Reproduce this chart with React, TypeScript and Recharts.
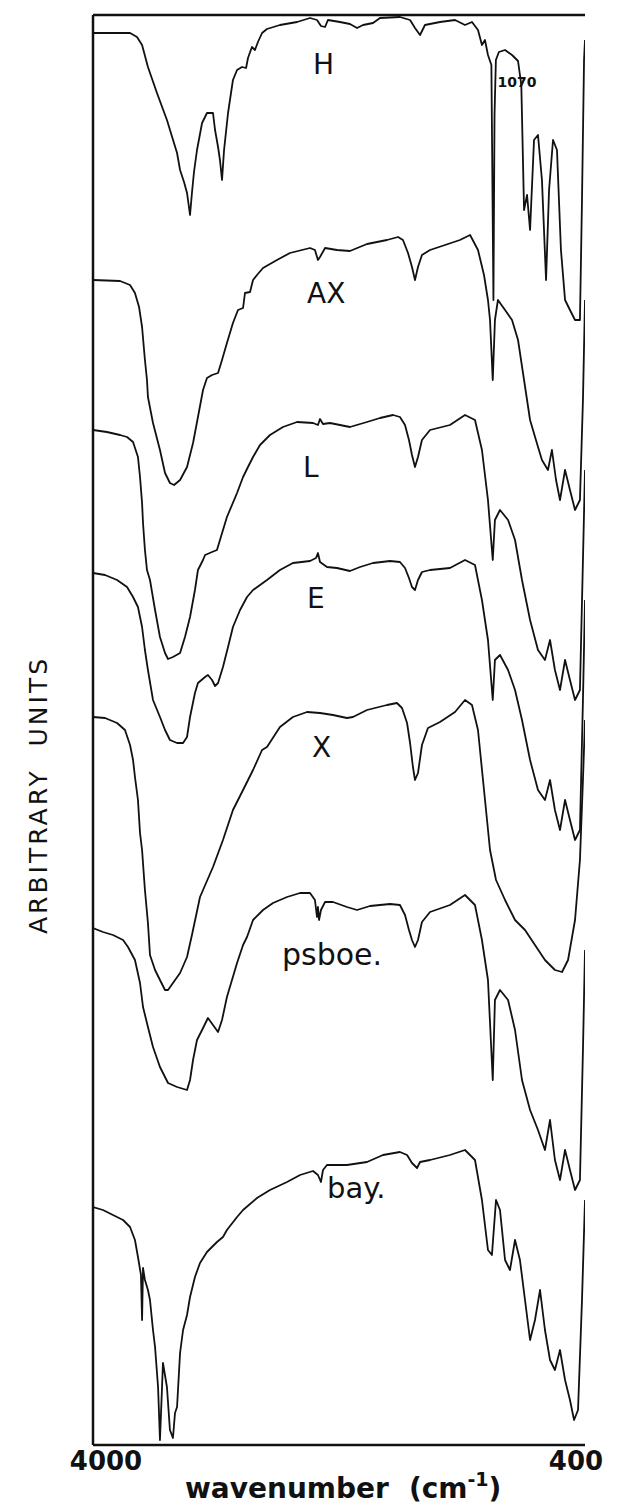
import React from "react";
import { LineChart, Line, XAxis, YAxis, ReferenceLine, ReferenceDot, Label } from "recharts";

type Pt = [number, number];

// [wavenumber (cm-1), signal (arbitrary units, each trace offset vertically)]
const hSpectrum: Pt[] = [
  [4000, 1412], [3876, 1412], [3729, 1412], [3678, 1408], [3641, 1400], [3598, 1378], [3532, 1352],
  [3459, 1325], [3385, 1292], [3363, 1275], [3334, 1263], [3312, 1252], [3290, 1230], [3276, 1252],
  [3261, 1273], [3239, 1295], [3202, 1322], [3166, 1332], [3122, 1332], [3107, 1315], [3085, 1298],
  [3071, 1285], [3056, 1265], [3041, 1295], [3012, 1332], [2976, 1365], [2946, 1375], [2910, 1378],
  [2880, 1377], [2866, 1387], [2837, 1398], [2815, 1395], [2793, 1403], [2763, 1412], [2727, 1416],
  [2632, 1420], [2507, 1423], [2412, 1427], [2361, 1425], [2332, 1419], [2302, 1418], [2281, 1425],
  [2193, 1423], [2120, 1421], [2068, 1417], [2024, 1420], [1951, 1422], [1900, 1427], [1754, 1428],
  [1680, 1425], [1644, 1417], [1607, 1410], [1571, 1420], [1461, 1423], [1351, 1425], [1278, 1420],
  [1227, 1423], [1183, 1415], [1154, 1400], [1132, 1405], [1110, 1390], [1085, 1380], [1070, 1145],
  [1062, 1330], [1052, 1385], [1030, 1393], [985, 1395], [934, 1390], [890, 1384], [866, 1360],
  [846, 1235], [824, 1250], [802, 1215], [773, 1305], [744, 1310], [715, 1265], [685, 1165],
  [663, 1255], [634, 1305], [605, 1295], [576, 1195], [546, 1145], [510, 1135], [473, 1125],
  [437, 1125], [422, 1245], [407, 1385], [400, 1405],
];

const axSpectrum: Pt[] = [
  [4000, 1165], [3802, 1164], [3729, 1160], [3693, 1152], [3663, 1138], [3641, 1118], [3620, 1085],
  [3605, 1065], [3598, 1048], [3561, 1022], [3510, 995], [3473, 972], [3437, 962], [3407, 960],
  [3363, 965], [3312, 978], [3268, 1002], [3232, 1028], [3195, 1055], [3166, 1067], [3129, 1070],
  [3085, 1072], [3056, 1085], [3020, 1102], [2976, 1122], [2939, 1135], [2902, 1137], [2888, 1152],
  [2851, 1153], [2829, 1165], [2800, 1170], [2756, 1177], [2654, 1185], [2559, 1192], [2412, 1197],
  [2376, 1195], [2354, 1185], [2339, 1188], [2302, 1197], [2215, 1195], [2120, 1194], [1995, 1201],
  [1849, 1205], [1768, 1208], [1732, 1205], [1695, 1192], [1666, 1178], [1644, 1165], [1622, 1178],
  [1593, 1190], [1534, 1195], [1424, 1200], [1315, 1205], [1241, 1210], [1183, 1195], [1139, 1170],
  [1110, 1145], [1095, 1125], [1075, 1065], [1059, 1125], [1037, 1145], [985, 1135], [934, 1125],
  [890, 1105], [846, 1065], [802, 1025], [759, 1005], [715, 985], [671, 975], [642, 995],
  [612, 965], [583, 945], [546, 975], [510, 955], [473, 935], [437, 945], [415, 1045], [400, 1145],
];

const lSpectrum: Pt[] = [
  [4000, 1015], [3898, 1013], [3802, 1010], [3751, 1008], [3707, 1003], [3671, 988], [3656, 968],
  [3641, 942], [3634, 922], [3620, 895], [3605, 875], [3583, 865], [3546, 835], [3510, 808],
  [3473, 792], [3451, 786], [3415, 788], [3363, 792], [3327, 808], [3290, 828], [3254, 855],
  [3232, 875], [3195, 885], [3180, 890], [3129, 893], [3093, 895], [3071, 905], [3020, 928],
  [2946, 952], [2902, 968], [2866, 978], [2829, 988], [2778, 1000], [2705, 1010], [2610, 1018],
  [2507, 1023], [2390, 1022], [2354, 1020], [2339, 1026], [2317, 1021], [2266, 1022], [2120, 1018],
  [1995, 1023], [1900, 1027], [1805, 1030], [1754, 1028], [1717, 1020], [1688, 1005], [1666, 990],
  [1644, 978], [1622, 988], [1593, 1005], [1534, 1015], [1388, 1020], [1278, 1030], [1205, 1025],
  [1154, 995], [1110, 945], [1075, 885], [1059, 925], [1022, 935], [963, 925], [912, 905],
  [861, 865], [802, 825], [744, 795], [693, 785], [656, 805], [620, 775], [583, 755], [546, 785],
  [510, 765], [473, 745], [437, 755], [415, 885], [400, 975],
];

const eSpectrum: Pt[] = [
  [4000, 872], [3912, 870], [3824, 865], [3751, 858], [3707, 848], [3671, 838], [3641, 818],
  [3620, 795], [3598, 775], [3561, 745], [3510, 728], [3473, 715], [3437, 705], [3385, 702],
  [3341, 702], [3312, 708], [3290, 728], [3254, 752], [3232, 762], [3180, 768], [3159, 770],
  [3129, 765], [3107, 759], [3085, 762], [3049, 778], [3012, 798], [2976, 818], [2924, 835],
  [2873, 848], [2829, 855], [2727, 865], [2632, 875], [2537, 882], [2412, 884], [2368, 887],
  [2354, 892], [2339, 883], [2288, 878], [2215, 877], [2120, 874], [2046, 878], [1951, 882],
  [1827, 884], [1754, 883], [1717, 877], [1688, 867], [1666, 858], [1644, 855], [1622, 865],
  [1593, 873], [1534, 875], [1388, 877], [1278, 885], [1205, 880], [1154, 845], [1110, 805],
  [1075, 745], [1059, 785], [1022, 790], [963, 775], [912, 755], [861, 725], [802, 685],
  [744, 655], [693, 645], [656, 665], [620, 635], [583, 615], [546, 645], [510, 625], [473, 605],
  [437, 615], [415, 745], [400, 845],
];

const xSpectrum: Pt[] = [
  [4000, 728], [3912, 727], [3824, 722], [3766, 715], [3729, 700], [3707, 685], [3693, 668],
  [3671, 645], [3656, 612], [3641, 595], [3620, 555], [3598, 522], [3583, 490], [3546, 475],
  [3510, 465], [3473, 455], [3451, 455], [3415, 462], [3363, 472], [3312, 488], [3276, 510],
  [3217, 548], [3122, 578], [3049, 605], [2976, 635], [2902, 655], [2829, 675], [2763, 695],
  [2727, 698], [2632, 718], [2537, 728], [2434, 733], [2339, 732], [2244, 730], [2142, 727],
  [2098, 728], [1995, 735], [1849, 740], [1776, 742], [1739, 737], [1702, 722], [1680, 702],
  [1659, 678], [1644, 665], [1622, 672], [1593, 700], [1549, 717], [1461, 723], [1351, 733],
  [1278, 745], [1227, 740], [1183, 715], [1139, 655], [1095, 595], [1051, 565], [985, 545],
  [912, 525], [839, 515], [766, 500], [693, 485], [620, 475], [568, 473], [524, 485], [473, 525],
  [437, 585], [415, 665], [400, 725],
];

const psboeSpectrum: Pt[] = [
  [4000, 517], [3927, 513], [3854, 510], [3780, 505], [3744, 498], [3693, 485], [3656, 462],
  [3634, 438], [3598, 418], [3561, 398], [3510, 378], [3451, 362], [3385, 358], [3312, 355],
  [3290, 365], [3268, 385], [3239, 405], [3202, 415], [3159, 427], [3122, 420], [3085, 413],
  [3056, 425], [3020, 448], [2983, 465], [2946, 482], [2902, 500], [2873, 508], [2829, 525],
  [2756, 535], [2683, 542], [2580, 548], [2485, 552], [2412, 552], [2376, 545], [2361, 528],
  [2354, 538], [2346, 525], [2332, 535], [2302, 543], [2244, 543], [2142, 538], [2068, 535],
  [1973, 539], [1827, 541], [1754, 540], [1717, 530], [1688, 515], [1666, 505], [1644, 498],
  [1622, 505], [1593, 523], [1534, 533], [1388, 540], [1278, 550], [1205, 540], [1154, 505],
  [1110, 465], [1075, 365], [1059, 445], [1022, 455], [963, 445], [912, 415], [861, 365],
  [802, 335], [744, 315], [693, 295], [656, 325], [620, 285], [583, 265], [546, 295], [510, 275],
  [473, 255], [437, 265], [415, 395], [400, 495],
];

const baySpectrum: Pt[] = [
  [4000, 238], [3927, 235], [3854, 230], [3780, 225], [3729, 218], [3693, 205], [3671, 188],
  [3649, 170], [3641, 125], [3634, 177], [3620, 165], [3598, 155], [3583, 145], [3561, 115],
  [3546, 98], [3524, 58], [3510, 5], [3488, 82], [3459, 58], [3437, 15], [3415, 7], [3400, 32],
  [3385, 38], [3363, 92], [3341, 115], [3312, 130], [3290, 148], [3254, 168], [3217, 182],
  [3166, 193], [3093, 203], [3049, 208], [3020, 215], [2946, 228], [2902, 235], [2800, 247],
  [2705, 255], [2580, 263], [2485, 270], [2390, 274], [2354, 270], [2332, 263], [2317, 275],
  [2288, 280], [2142, 280], [1995, 283], [1878, 290], [1754, 293], [1702, 290], [1666, 282],
  [1629, 277], [1607, 283], [1534, 285], [1388, 290], [1278, 295], [1205, 285], [1154, 245],
  [1110, 195], [1081, 190], [1051, 245], [1022, 235], [985, 185], [949, 175], [912, 205],
  [876, 185], [839, 145], [802, 105], [766, 125], [729, 155], [693, 115], [656, 85], [620, 75],
  [583, 95], [546, 65], [510, 45], [480, 25], [451, 35], [422, 145], [400, 245],
];

const spectra = [
  { id: "H", points: hSpectrum },
  { id: "AX", points: axSpectrum },
  { id: "L", points: lSpectrum },
  { id: "E", points: eSpectrum },
  { id: "X", points: xSpectrum },
  { id: "psboe", points: psboeSpectrum },
  { id: "bay", points: baySpectrum },
];

// trace names, anchored at the left end of their baseline
const curveLabels = [
  { text: "H", w: 2390, s: 1371, size: 28, weight: 400 },
  { text: "AX", w: 2434, s: 1142, size: 28, weight: 400 },
  { text: "L", w: 2463, s: 968, size: 28, weight: 400 },
  { text: "E", w: 2434, s: 837, size: 28, weight: 400 },
  { text: "X", w: 2398, s: 688, size: 28, weight: 400 },
  { text: "psboe.", w: 2617, s: 480, size: 30, weight: 400 },
  { text: "bay.", w: 2288, s: 247, size: 29, weight: 400 },
  { text: "1070", w: 1040, s: 1358, size: 14, weight: 700 },
];

const wavenumberTicks = [4000, 400];

const INK = "#111";
const FONT = "'DejaVu Sans', Verdana, sans-serif";

const toRows = (pts: Pt[]) => pts.map(([w, s]) => ({ w, s }));

const WaveTick = (props: any) => {
  const { x, y, payload } = props;
  const shift = payload.value === 4000 ? 13 : -9;
  return (
    <text x={x + shift} y={y + 25} textAnchor="middle" fontFamily={FONT} fontWeight={700} fontSize={26} fill={INK}>
      {payload.value}
    </text>
  );
};

const AxisTitle = (props: any) => {
  const vb = props.viewBox || { x: 85, y: 1437 };
  return (
    <text x={vb.x + 92} y={vb.y + 53} fontFamily={FONT} fontWeight={700} fontSize={28} fill={INK}>
      wavenumber
      <tspan dx={20}>(cm</tspan>
      <tspan dy={-12} fontSize={19}>-1</tspan>
      <tspan dy={12}>)</tspan>
    </text>
  );
};

const UnitsTitle = (props: any) => {
  const vb = props.viewBox || { x: 0, y: 7 };
  const cx = vb.x + 39;
  const cy = vb.y + 780;
  return (
    <text
      x={cx}
      y={cy}
      transform={`rotate(-90 ${cx} ${cy})`}
      textAnchor="middle"
      fontFamily={FONT}
      fontSize={25}
      letterSpacing={3}
      fill={INK}
      style={{ whiteSpace: "pre" }}
    >
      {"ARBITRARY  UNITS"}
    </text>
  );
};

export default function App() {
  return (
    <div style={{ width: 601, height: 1500 }}>
      <LineChart width={601} height={1500} margin={{ top: 7, right: 24, bottom: 13, left: 0 }}>
        <XAxis
          type="number"
          dataKey="w"
          domain={[400, 4000]}
          reversed
          allowDataOverflow
          ticks={wavenumberTicks}
          interval={0}
          tickLine={false}
          tickSize={0}
          tickMargin={0}
          height={50}
          axisLine={{ stroke: INK, strokeWidth: 2.5 }}
          tick={<WaveTick />}
        >
          <Label content={<AxisTitle />} />
        </XAxis>
        <YAxis
          type="number"
          domain={[0, 1430]}
          allowDataOverflow
          width={85}
          tick={false}
          tickLine={false}
          axisLine={{ stroke: INK, strokeWidth: 2.5 }}
        >
          <Label content={<UnitsTitle />} />
        </YAxis>
        <ReferenceLine y={1430} stroke={INK} strokeWidth={2.5} />
        {spectra.map((sp) => (
          <Line
            key={sp.id}
            data={toRows(sp.points)}
            dataKey="s"
            type="linear"
            dot={false}
            activeDot={false}
            stroke={INK}
            strokeWidth={1.8}
            strokeLinejoin="round"
            isAnimationActive={false}
          />
        ))}
        {curveLabels.map((lb) => (
          <ReferenceDot
            key={lb.text}
            x={lb.w}
            y={lb.s}
            r={0}
            shape={(p: any) => (
              <text x={p.cx} y={p.cy} fontFamily={FONT} fontSize={lb.size} fontWeight={lb.weight} fill={INK}>
                {lb.text}
              </text>
            )}
          />
        ))}
      </LineChart>
    </div>
  );
}
